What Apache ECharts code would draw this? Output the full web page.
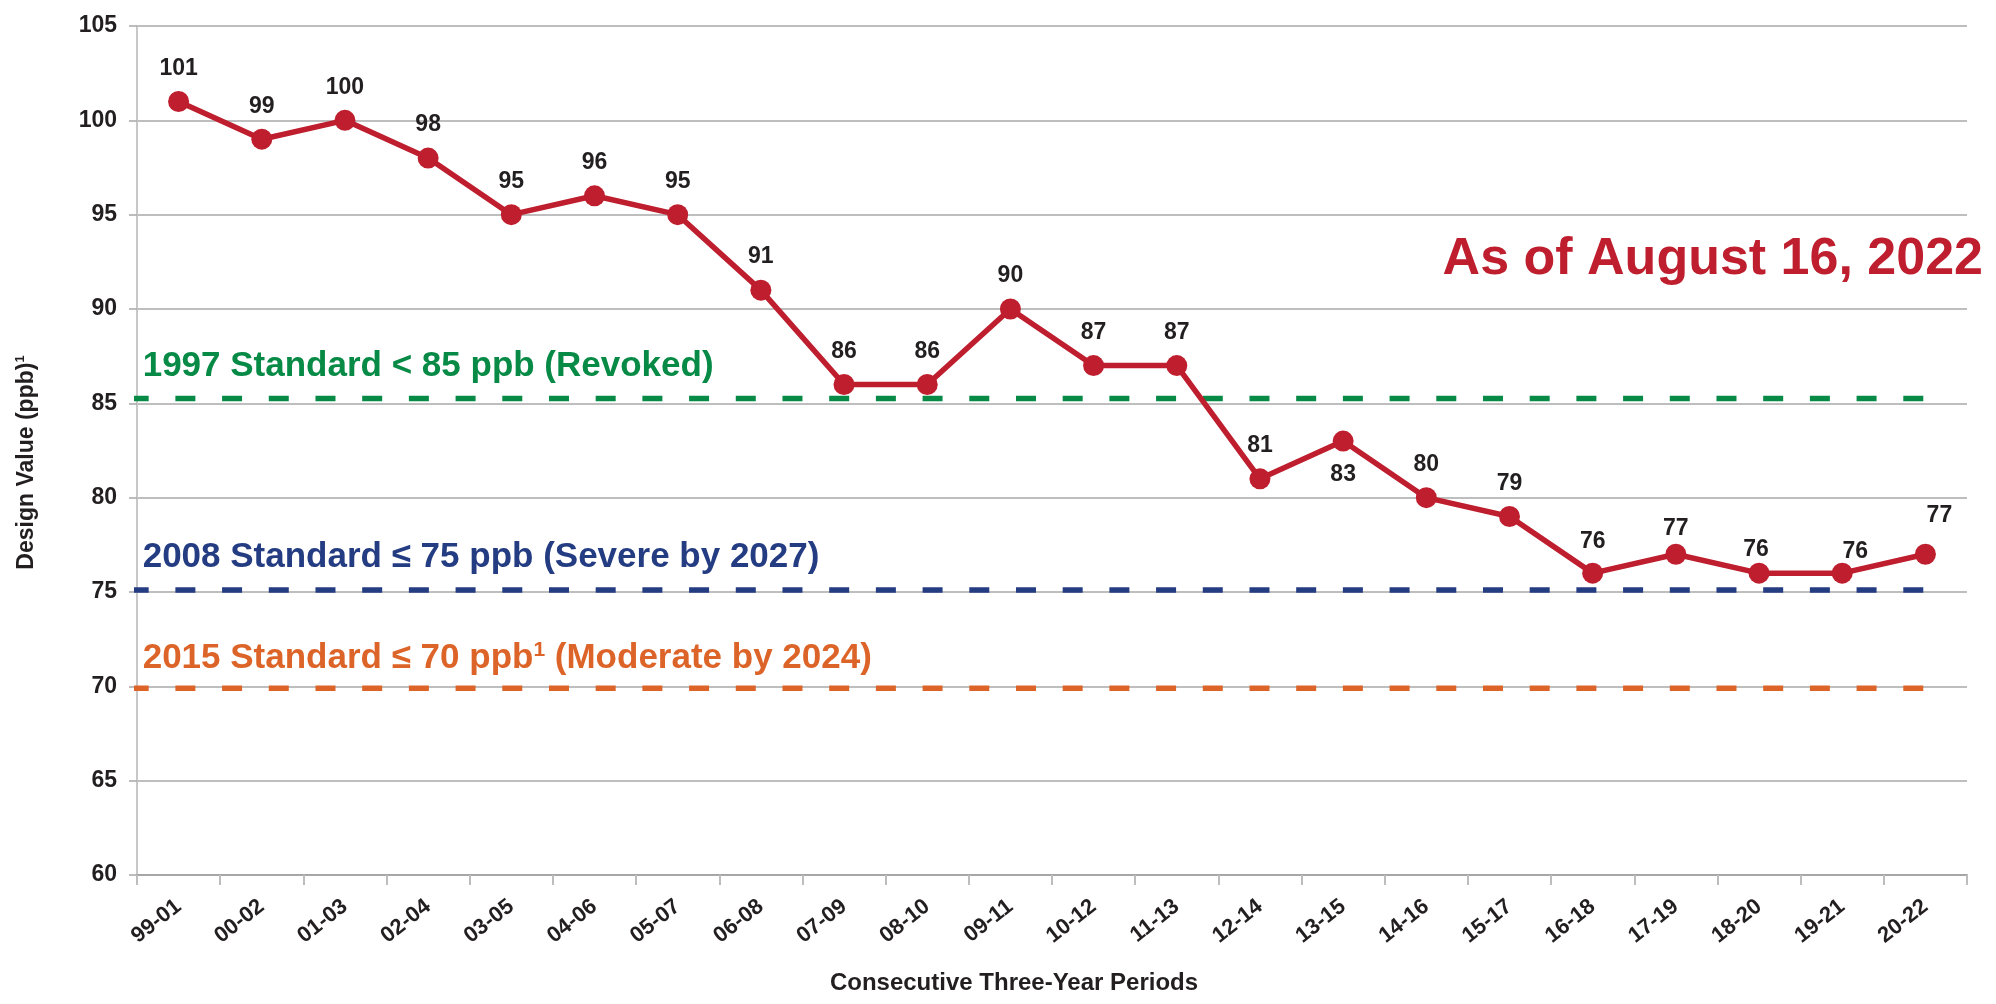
<!DOCTYPE html>
<html>
<head>
<meta charset="utf-8">
<script src="https://cdn.jsdelivr.net/npm/echarts@6/dist/echarts.min.js"></script>
<style>
  html, body { margin: 0; padding: 0; background: #ffffff; }
  #chart { width: 1996px; height: 1004px; }
</style>
</head>
<body>
<div id="chart"></div>
<script>
// ---- data ----
const categories = ['99-01','00-02','01-03','02-04','03-05','04-06','05-07','06-08','07-09','08-10','09-11',
                    '10-12','11-13','12-14','13-15','14-16','15-17','16-18','17-19','18-20','19-21','20-22'];
const designValues = [101, 99, 100, 98, 95, 96, 95, 91, 86, 86, 90, 87, 87, 81, 83, 80, 79, 76, 77, 76, 76, 77];
const yMin = 60, yMax = 105, yStep = 5;
const standardLevels = [85.25, 75.1, 69.9];
const standardTexts = [
  '1997 Standard < 85 ppb (Revoked)',
  '2008 Standard \u2264 75 ppb (Severe by 2027)',
  '{t|2015 Standard \u2264 70 ppb}{sup|1}{t| (Moderate by 2024)}'
];
const standardSpan = [-0.1, 21.5];
const yAxisTitle = '{t|Design Value (ppb)}{sup|1}';
const xAxisTitle = 'Consecutive Three-Year Periods';
const annotation = 'As of August 16, 2022';

// ---- styles ----
const RED = '#BE1E2D';
const standardColors = ['#078A46', '#243C82', '#DD6428'];
const standardLabelDy = [-32, -33, -30];
const TXT = '#231F20';
const FONT = 'Liberation Sans, Arial, Helvetica, sans-serif';

const labelOverrides = {
  14: { position: 'bottom', distance: 12 },
  17: { offset: [0, 2] },
  18: { offset: [0, 7] },
  19: { offset: [-3, 10] },
  20: { offset: [13, 12] },
  21: { offset: [14, -6] }
};

const mainData = designValues.map((v, i) => {
  const item = { value: v };
  if (labelOverrides[i]) item.label = labelOverrides[i];
  return item;
});

const standardSeries = standardLevels.map((lvl, k) => ({
  type: 'line',
  xAxisIndex: 1,
  yAxisIndex: 0,
  clip: false,
  silent: true,
  z: 1,
  symbol: 'circle',
  symbolSize: 0,
  lineStyle: { color: standardColors[k], width: 5.5, type: [20, 26.7], cap: 'butt' },
  itemStyle: { color: standardColors[k] },
  data: [
    {
      value: [standardSpan[0], lvl],
      label: {
        show: true,
        position: 'right',
        distance: 0,
        offset: [14, standardLabelDy[k]],
        formatter: standardTexts[k],
        color: standardColors[k],
        fontFamily: FONT,
        fontWeight: 'bold',
        fontSize: 35,
        rich: {
          t: { color: standardColors[k], fontFamily: FONT, fontWeight: 'bold', fontSize: 35 },
          sup: { color: standardColors[k], fontFamily: FONT, fontWeight: 'bold', fontSize: 21, padding: [0, 0, 16, 0] }
        }
      }
    },
    { value: [standardSpan[1], lvl], label: { show: false } }
  ]
}));

const chart = echarts.init(document.getElementById('chart'), null, { renderer: 'canvas' });
chart.setOption({
  backgroundColor: '#ffffff',
  animation: false,
  title: {
    text: annotation,
    right: 8,
    top: 229,
    textStyle: { color: RED, fontFamily: FONT, fontWeight: 'bold', fontSize: 52 }
  },
  grid: { left: 137, right: 29, top: 26, bottom: 129, containLabel: false },
  xAxis: [
    {
      type: 'category',
      data: categories,
      boundaryGap: true,
      name: xAxisTitle,
      nameLocation: 'middle',
      nameGap: 96,
      nameTextStyle: { color: TXT, fontFamily: FONT, fontWeight: 'bold', fontSize: 24, padding: [0, 76, 0, 0] },
      axisLine: { show: true, lineStyle: { color: '#A6A6A6', width: 2 } },
      axisTick: { show: true, alignWithLabel: false, length: 10, lineStyle: { color: '#BDBDBD', width: 2 } },
      axisLabel: { interval: 0, rotate: 38, margin: 29, color: TXT, fontFamily: FONT, fontWeight: 'bold', fontSize: 22 },
      splitLine: { show: false }
    },
    {
      type: 'value',
      min: 0,
      max: 22,
      show: false
    }
  ],
  yAxis: {
    type: 'value',
    min: yMin,
    max: yMax,
    interval: yStep,
    name: yAxisTitle,
    nameLocation: 'middle',
    nameGap: 98,
    nameRotate: 90,
    nameTextStyle: {
      color: TXT, fontFamily: FONT, fontWeight: 'bold', fontSize: 23, padding: [0, 24, 0, 0],
      rich: {
        t: { color: TXT, fontFamily: FONT, fontWeight: 'bold', fontSize: 23 },
        sup: { color: TXT, fontFamily: FONT, fontWeight: 'bold', fontSize: 13, padding: [0, 0, 12, 0] }
      }
    },
    axisLine: { show: true, lineStyle: { color: '#C8C8C8', width: 2 } },
    axisTick: { show: true, length: 8, lineStyle: { color: '#A6A6A6', width: 1.5 } },
    axisLabel: { margin: 20, color: TXT, fontFamily: FONT, fontWeight: 'bold', fontSize: 23 },
    splitLine: { show: true, lineStyle: { color: '#A8A8A8', width: 1.5 } }
  },
  series: [
    ...standardSeries,
    {
      type: 'line',
      xAxisIndex: 0,
      yAxisIndex: 0,
      z: 5,
      data: mainData,
      symbol: 'circle',
      symbolSize: 21,
      lineStyle: { color: RED, width: 5.5 },
      itemStyle: { color: RED },
      label: {
        show: true,
        position: 'top',
        distance: 11,
        color: TXT,
        fontFamily: FONT,
        fontWeight: 'bold',
        fontSize: 23
      }
    }
  ]
});
</script>
</body>
</html>
